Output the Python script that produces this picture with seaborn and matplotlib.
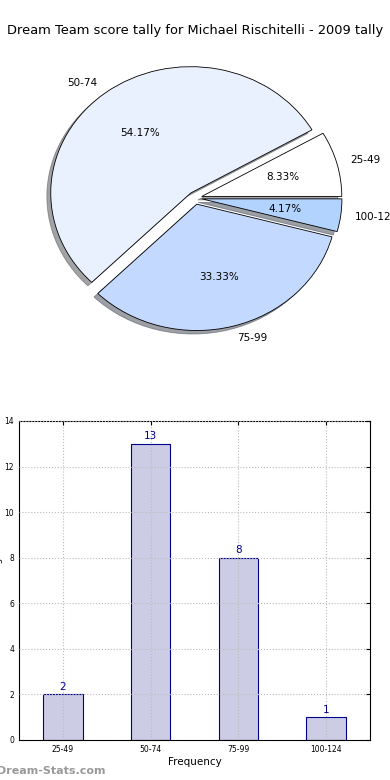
import matplotlib
matplotlib.use("Agg")
import matplotlib.pyplot as plt
import seaborn as sns
import pandas as pd

# score bands and how many games fell in each
score_bands = ["25-49", "50-74", "75-99", "100-124"]
tally = [2, 13, 8, 1]
pie_colors = ["#FFFFFF", "#EAF1FE", "#C4D9FF", "#B3D3FF"]
explode = [0.05, 0.05, 0.05, 0.05]

sns.set_style("white")
plt.rcParams["font.family"] = ["DejaVu Sans"]
plt.rcParams["text.color"] = "black"
plt.rcParams["axes.labelcolor"] = "black"
plt.rcParams["xtick.color"] = "black"
plt.rcParams["ytick.color"] = "black"

fig = plt.figure(figsize=(3.9, 7.8), dpi=100)

# ---- pie ----
ax_pie = fig.add_axes([0.0513, 0.5436, 0.8974, 0.405])
wedges, texts, autotexts = ax_pie.pie(
    tally, labels=score_bands, colors=pie_colors, explode=explode,
    autopct="%1.2f%%", shadow=True, startangle=0,
    wedgeprops=dict(edgecolor="black", linewidth=0.6),
    textprops=dict(fontsize=7.5, color="black"))
ax_pie.set_aspect("auto")
ax_pie.set_xlim(-1.25, 1.25)
ax_pie.set_ylim(-1.25, 1.25)
fig.text(0.5, 0.961, "Dream Team score tally for Michael Rischitelli - 2009 tally",
         ha="center", va="center", fontsize=9.4, color="black")

# ---- bars ----
df = pd.DataFrame({"band": score_bands, "count": tally})
ax_bar = fig.add_axes([0.0487, 0.0513, 0.9, 0.409])
sns.barplot(data=df, x="band", y="count", ax=ax_bar, color="#CCCCE5",
            saturation=1, edgecolor="#00008B", linewidth=0.8, width=0.45)
ax_bar.set_xlim(-0.5, 3.5)
ax_bar.set_ylim(0, 14)
ax_bar.set_yticks(range(0, 15, 2))
ax_bar.grid(True, linestyle=":", color="#BBBBBB", linewidth=0.8)
ax_bar.set_axisbelow(False)
for side in ax_bar.spines.values():
    side.set_color("black")
    side.set_linewidth(0.8)
ax_bar.tick_params(labelsize=5.5, direction="in", length=3, top=True, right=True)
ax_bar.set_xlabel("Frequency", fontsize=7.5, labelpad=2)
ax_bar.set_ylabel("Score Range", fontsize=6.5)
ax_bar.yaxis.set_label_coords(-0.045, 0.5)

for i, v in enumerate(tally):
    ax_bar.text(i, v + 0.1, str(v), ha="center", va="bottom",
                fontsize=7.5, color="#00008B")

fig.text(-0.008, 0.012, "Dream-Stats.com", fontsize=8, fontweight="bold",
         color="#999999", ha="left", va="center")

fig.savefig("out.png", dpi=100)
